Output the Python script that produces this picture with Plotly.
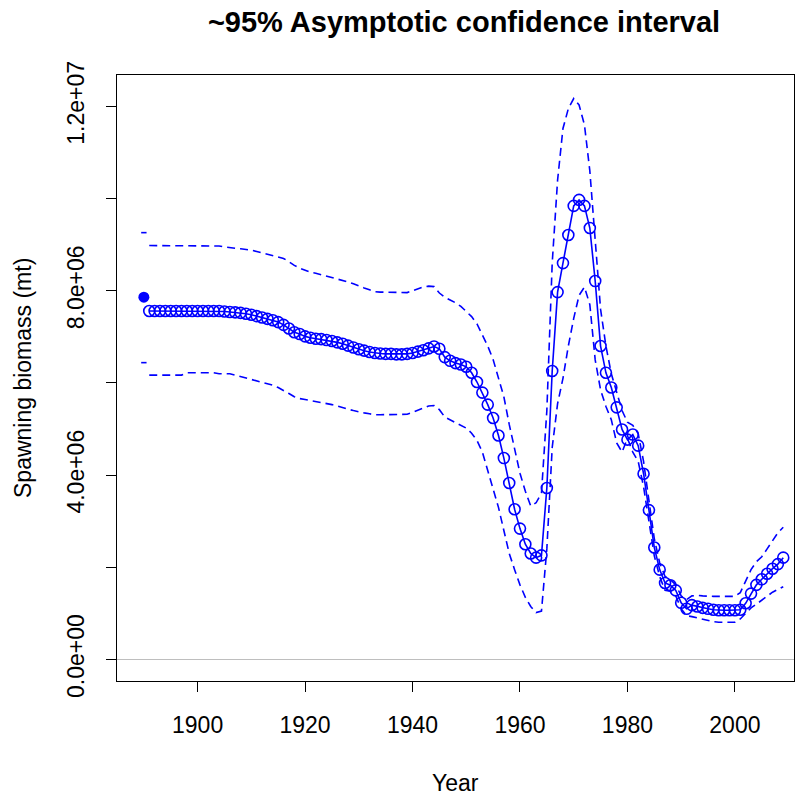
import plotly.graph_objects as go

# ---- data (spawning biomass, million mt) ----
virgin_year = [1890]
virgin_value = [7.86]
virgin_upper = [9.26]
virgin_lower = [6.44]

years = list(range(1891, 2010))

sb = [
    7.56, 7.56, 7.56, 7.56, 7.56, 7.56, 7.56, 7.56, 7.56, 7.56,   # 1891-1900
    7.56, 7.56, 7.56, 7.56, 7.55, 7.54, 7.53, 7.52, 7.50, 7.48,   # 1901-1910
    7.45, 7.42, 7.39, 7.36, 7.32, 7.26, 7.18, 7.10, 7.06, 7.01,   # 1911-1920
    6.98, 6.96, 6.95, 6.93, 6.91, 6.88, 6.85, 6.81, 6.77, 6.73,   # 1921-1930
    6.70, 6.67, 6.65, 6.64, 6.63, 6.63, 6.62, 6.62, 6.63, 6.65,   # 1931-1940
    6.68, 6.71, 6.75, 6.79, 6.74, 6.56, 6.48, 6.43, 6.40, 6.35,   # 1941-1950
    6.22, 6.02, 5.79, 5.53, 5.24, 4.86, 4.37, 3.83, 3.26, 2.84,   # 1951-1960
    2.50, 2.30, 2.21, 2.26, 3.72, 6.26, 7.97, 8.60, 9.21, 9.84,   # 1961-1970
    9.97, 9.84, 9.36, 8.21, 6.80, 6.22, 5.90, 5.47, 4.99, 4.77,   # 1971-1980
    4.88, 4.64, 4.03, 3.24, 2.43, 1.95, 1.66, 1.61, 1.50, 1.23,   # 1981-1990
    1.10, 1.18, 1.15, 1.12, 1.10, 1.08, 1.07, 1.07, 1.07, 1.07,   # 1991-2000
    1.08, 1.22, 1.43, 1.62, 1.74, 1.86, 1.97, 2.07, 2.21,         # 2001-2009
]

upper = [
    8.98, 8.98, 8.98, 8.98, 8.98, 8.98, 8.98, 8.98, 8.98, 8.98,   # 1891-1900
    8.98, 8.98, 8.98, 8.97, 8.95, 8.93, 8.92, 8.91, 8.90, 8.88,   # 1901-1910
    8.85, 8.82, 8.79, 8.77, 8.74, 8.70, 8.63, 8.55, 8.49, 8.44,   # 1911-1920
    8.40, 8.38, 8.35, 8.32, 8.29, 8.26, 8.23, 8.19, 8.15, 8.10,   # 1921-1930
    8.06, 8.02, 7.98, 7.97, 7.97, 7.96, 7.96, 7.96, 7.96, 8.00,   # 1931-1940
    8.04, 8.08, 8.10, 8.09, 7.95, 7.86, 7.80, 7.74, 7.66, 7.56,   # 1941-1950
    7.44, 7.28, 7.05, 6.80, 6.51, 6.10, 5.70, 5.10, 4.60, 4.04,   # 1951-1960
    3.65, 3.33, 3.40, 3.61, 5.40, 8.60, 10.40, 11.52, 11.95, 12.17,  # 1961-1970
    12.03, 11.60, 10.60, 9.00, 7.60, 6.80, 6.20, 5.80, 5.40, 5.15,   # 1971-1980
    5.08, 4.90, 4.30, 3.45, 2.62, 2.10, 1.80, 1.73, 1.62, 1.38,   # 1981-1990
    1.30, 1.38, 1.39, 1.38, 1.37, 1.37, 1.37, 1.37, 1.37, 1.37,   # 1991-2000
    1.45, 1.70, 1.95, 2.12, 2.23, 2.40, 2.58, 2.75, 2.87,         # 2001-2009
]

lower = [
    6.17, 6.17, 6.17, 6.17, 6.17, 6.17, 6.17, 6.22, 6.22, 6.22,   # 1891-1900
    6.22, 6.22, 6.22, 6.20, 6.20, 6.20, 6.17, 6.14, 6.10, 6.07,   # 1901-1910
    6.04, 6.01, 5.98, 5.95, 5.90, 5.84, 5.77, 5.70, 5.66, 5.64,   # 1911-1920
    5.62, 5.60, 5.58, 5.55, 5.53, 5.50, 5.46, 5.43, 5.40, 5.37,   # 1921-1930
    5.35, 5.33, 5.31, 5.31, 5.31, 5.31, 5.31, 5.31, 5.32, 5.36,   # 1931-1940
    5.41, 5.45, 5.50, 5.51, 5.42, 5.26, 5.20, 5.13, 5.08, 5.02,   # 1941-1950
    4.91, 4.75, 4.50, 4.10, 3.75, 3.30, 2.80, 2.30, 1.95, 1.62,   # 1951-1960
    1.35, 1.15, 1.02, 1.05, 2.40, 4.60, 5.55, 6.10, 6.80, 7.40,   # 1961-1970
    7.90, 8.08, 7.70, 6.50, 5.85, 5.49, 5.20, 4.70, 4.50, 4.80,   # 1971-1980
    4.50, 4.30, 3.75, 3.00, 2.25, 1.80, 1.50, 1.48, 1.38, 1.10,   # 1981-1990
    0.95, 0.93, 0.90, 0.87, 0.84, 0.82, 0.81, 0.81, 0.81, 0.81,   # 1991-2000
    0.88, 1.00, 1.12, 1.20, 1.28, 1.37, 1.46, 1.52, 1.58,         # 2001-2009
]

x_ticks = [1900, 1920, 1940, 1960, 1980, 2000]
y_ticks = [0, 2e6, 4e6, 6e6, 8e6, 1e7, 1.2e7]
y_tick_text = ["0.0e+00", "", "4.0e+06", "", "8.0e+06", "", "1.2e+07"]

M = 1e6
BLUE = "#0000FF"
FONT = "Liberation Sans, Arial, Helvetica, sans-serif"
DASH = "8px,5px"

fig = go.Figure()

# confidence interval lines
fig.add_trace(go.Scatter(x=years, y=[v * M for v in upper], mode="lines",
                         line=dict(color=BLUE, width=1.6, dash=DASH), hoverinfo="skip"))
fig.add_trace(go.Scatter(x=years, y=[v * M for v in lower], mode="lines",
                         line=dict(color=BLUE, width=1.6, dash=DASH), hoverinfo="skip"))

# virgin CI short segments
for vv in (virgin_upper, virgin_lower):
    fig.add_trace(go.Scatter(x=[virgin_year[0] - 0.5, virgin_year[0] + 0.5],
                             y=[vv[0] * M, vv[0] * M], mode="lines",
                             line=dict(color=BLUE, width=1.6, dash=DASH), hoverinfo="skip"))

# main series
fig.add_trace(go.Scatter(x=years, y=[v * M for v in sb], mode="lines+markers",
                         line=dict(color=BLUE, width=1.6),
                         marker=dict(symbol="circle-open", size=11, color=BLUE,
                                     line=dict(color=BLUE, width=1.6))))
# virgin biomass
fig.add_trace(go.Scatter(x=virgin_year, y=[v * M for v in virgin_value], mode="markers",
                         marker=dict(symbol="circle", size=11, color=BLUE)))

fig.update_layout(
    width=800, height=797,
    margin=dict(l=117, r=6, t=75, b=116),
    paper_bgcolor="white", plot_bgcolor="white",
    showlegend=False,
    font=dict(family=FONT, size=23, color="black"),
    title=dict(text="<b>~95% Asymptotic confidence interval</b>",
               font=dict(family=FONT, size=29, color="black"),
               xref="container", x=0.58, xanchor="center",
               yref="container", y=1 - 22 / 797, yanchor="middle"),
    xaxis=dict(range=[1885.0, 2011.0], tickvals=x_ticks,
               ticks="outside", ticklen=10, tickwidth=1, tickcolor="black",
               ticklabelstandoff=13,
               showline=True, linecolor="black", linewidth=1, mirror=True,
               showgrid=False, zeroline=False,
               tickfont=dict(family=FONT, size=23, color="black")),
    yaxis=dict(range=[-0.466e6, 12.68e6], tickvals=y_ticks, ticktext=y_tick_text,
               tickangle=-90,
               ticks="outside", ticklen=10, tickwidth=1, tickcolor="black",
               ticklabelstandoff=13,
               showline=True, linecolor="black", linewidth=1, mirror=True,
               showgrid=False, zeroline=True, zerolinecolor="#BEBEBE", zerolinewidth=1,
               tickfont=dict(family=FONT, size=23, color="black")),
    annotations=[
        dict(text="Year", xref="paper", yref="paper", x=0.5, y=-(783 - 681) / 606,
             xanchor="center", yanchor="middle", showarrow=False,
             font=dict(family=FONT, size=23, color="black")),
        dict(text="Spawning biomass (mt)", xref="paper", yref="paper",
             x=-(117 - 23) / 677, y=0.5, xanchor="center", yanchor="middle",
             textangle=-90, showarrow=False,
             font=dict(family=FONT, size=23, color="black")),
    ],
)

fig.write_html("out.html")
